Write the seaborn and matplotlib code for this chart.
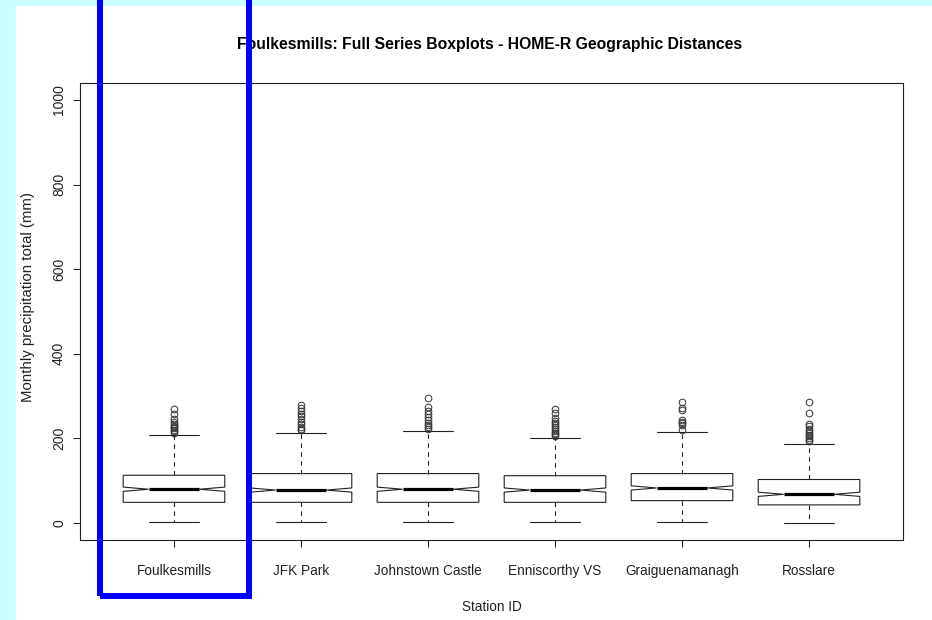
import matplotlib
matplotlib.use("Agg")
import matplotlib.pyplot as plt
from matplotlib import font_manager
from matplotlib.patches import Rectangle
import seaborn as sns

# Summary statistics of monthly precipitation totals (mm) per station
stations = ["Foulkesmills", "JFK Park", "Johnstown Castle", "Enniscorthy VS",
            "Graiguenamanagh", "Rosslare"]
whisker_low = [2, 2, 2, 2, 2, 1]
q1 = [49, 49, 49, 49, 53, 43]
median = [80, 78, 80, 78, 83, 68]
q3 = [113, 117, 117, 112, 117, 103]
whisker_high = [209, 213, 218, 202, 216, 188]
notch_low = [75, 73, 75, 73, 78, 63]
notch_high = [85, 83, 85, 83, 88, 73]

out_foulkesmills = [214, 218, 221, 224, 227, 230, 233, 238, 245, 258, 270]
out_jfk_park = [219, 223, 228, 234, 240, 246, 252, 258, 265, 272, 279]
out_johnstown = [222, 226, 231, 237, 243, 250, 257, 264, 275, 296]
out_enniscorthy = [206, 210, 214, 218, 222, 226, 231, 236, 242, 248, 259, 270]
out_graiguenamanagh = [220, 232, 236, 240, 243, 268, 273, 287]
out_rosslare = [193, 197, 201, 205, 209, 213, 218, 223, 229, 235, 261, 287]
outliers = [out_foulkesmills, out_jfk_park, out_johnstown, out_enniscorthy,
            out_graiguenamanagh, out_rosslare]

y_ticks = [0, 200, 400, 600, 800, 1000]

title = "Foulkesmills: Full Series Boxplots - HOME-R Geographic Distances"
x_label = "Station ID"
y_label = "Monthly precipitation total (mm)"

sns.set_theme(style="white")
installed = {f.name for f in font_manager.fontManager.ttflist}
narrow = "Liberation Sans Narrow" if "Liberation Sans Narrow" in installed else "Liberation Sans"
plt.rcParams["font.family"] = ["Liberation Sans", "DejaVu Sans"]

W, H = 932, 620
fig = plt.figure(figsize=(W / 100, H / 100), dpi=100)
fig.patch.set_facecolor("#CCFFFF")
# white page area
fig.patches.append(Rectangle((16 / W, 0), 1 - 16 / W, (H - 6) / H,
                             transform=fig.transFigure, facecolor="white",
                             edgecolor="none", zorder=-10))

ax_l, ax_r, ax_t, ax_b = 80, 903, 83, 540
ax = fig.add_axes([ax_l / W, (H - ax_b) / H, (ax_r - ax_l) / W, (ax_b - ax_t) / H])
ax.set_facecolor("white")
ax.set_zorder(1)

stats = []
for i, name in enumerate(stations):
    stats.append(dict(label=name, whislo=whisker_low[i], q1=q1[i], med=median[i],
                      q3=q3[i], whishi=whisker_high[i], cilo=notch_low[i],
                      cihi=notch_high[i], fliers=outliers[i]))

positions = list(range(1, len(stations) + 1))
ax.bxp(stats, positions=positions, widths=0.8, shownotches=True, patch_artist=True,
       boxprops=dict(facecolor="white", edgecolor="#222222", linewidth=0.8),
       medianprops=dict(color="black", linewidth=2.3, solid_capstyle="butt"),
       whiskerprops=dict(color="#222222", linewidth=0.8, linestyle=(0, (4, 4))),
       capprops=dict(color="#222222", linewidth=0.8),
       flierprops=dict(marker="o", markerfacecolor="none", markeredgecolor="#333333",
                       markersize=4.8, markeredgewidth=0.7),
       capwidths=0.4)

ax.set_xlim(0.26, 6.74)
ax.set_ylim(-40, 1040)
ax.set_yticks(y_ticks)
ax.set_xticks(positions)
ax.set_xticklabels(stations, fontfamily=narrow, fontsize=9.8, color="#222222")
ax.set_yticklabels([str(v) for v in y_ticks], rotation=90, va="center",
                   fontsize=10, color="#222222")
ax.tick_params(axis="both", direction="out", length=5, width=0.75, color="#222222",
               bottom=True, left=True, top=False, right=False)
ax.tick_params(axis="x", pad=12)
ax.tick_params(axis="y", pad=5)
ax.grid(False)
for sp in ax.spines.values():
    sp.set_visible(True)
    sp.set_color("#222222")
    sp.set_linewidth(0.8)

ax.set_xlabel(x_label, fontfamily=narrow, fontsize=9.8, color="#222222", va="center")
ax.xaxis.set_label_coords(0.5, (ax_b - 607) / (ax_b - ax_t))
ax.set_ylabel(y_label, fontsize=10.8, color="#222222", va="center")
ax.yaxis.set_label_coords((28 - ax_l) / (ax_r - ax_l), (ax_b - 297) / (ax_b - ax_t))

fig.text(490 / W, (H - 45) / H, title, ha="center", va="center",
         fontfamily=narrow, fontweight="bold", fontsize=11.3, color="black")

# highlight frame around the first station
fig.patches.append(Rectangle((100 / W, (H - 596) / H), 149 / W, 0.99,
                             transform=fig.transFigure, facecolor="none",
                             edgecolor="#0000FF", linewidth=4.3, zorder=10,
                             clip_on=False))

fig.savefig("out.png", dpi=100, facecolor=fig.get_facecolor())
